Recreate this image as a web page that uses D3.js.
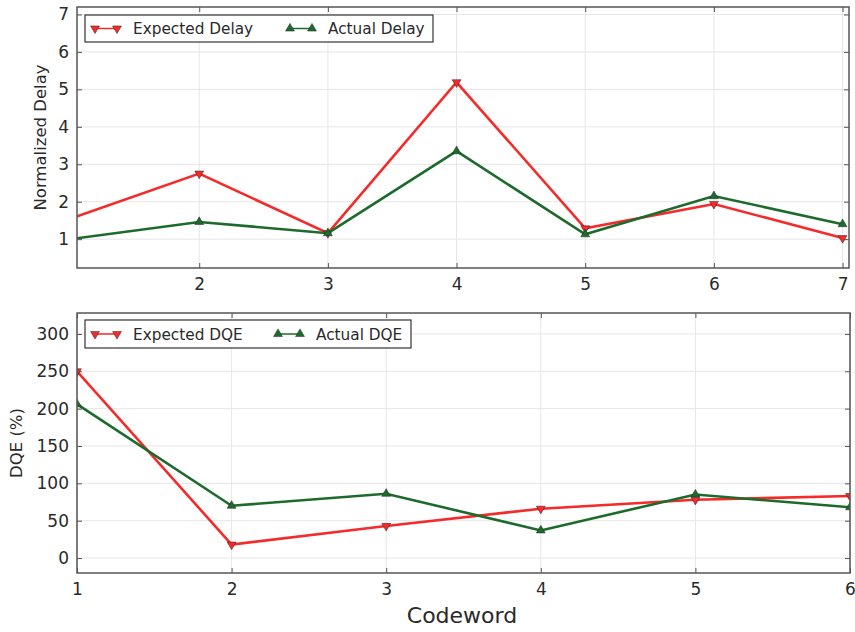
<!DOCTYPE html>
<html>
<head>
<meta charset="utf-8">
<script src="https://cdn.jsdelivr.net/npm/d3@7"></script>
<style>
  body { margin: 0; background: #fff; }
  svg { font-family: "DejaVu Sans", sans-serif; }
  .grid line { stroke: #e6e6e6; stroke-width: 1; }
  .axis path { display: none; }
  .axis line { stroke: #555; }
  .axis text { fill: #2a2a2a; font-size: 17px; font-family: "DejaVu Sans", sans-serif; }
</style>
</head>
<body>
<svg id="chart" width="855" height="632"></svg>
<script>
  // top panel
  const delayX = [1, 2, 3, 4, 5, 6, 7],
        expectedDelay = [1.55, 2.75, 1.16, 5.19, 1.29, 1.94, 1.03],
        actualDelay = [1.0, 1.46, 1.16, 3.35, 1.13, 2.15, 1.4],
        delayXTicks = [2, 3, 4, 5, 6, 7],
        delayYTicks = [1, 2, 3, 4, 5, 6, 7];

  // bottom panel
  const dqeX = [1, 2, 3, 4, 5, 6],
        expectedDQE = [250, 18, 43, 66, 78, 83],
        actualDQE = [206, 70, 86, 37, 85, 68],
        dqeXTicks = [1, 2, 3, 4, 5, 6],
        dqeYTicks = [0, 50, 100, 150, 200, 250, 300];

  const red = "#f52a2a", green = "#1d6b2c";

  let svg = d3.select("#chart");

  function panel (opt) {
    let x = d3.scaleLinear().domain(opt.xDomain).range([opt.left, opt.right]);
    let y = d3.scaleLinear().domain(opt.yDomain).range([opt.bottom, opt.top]);
    let w = opt.right - opt.left, h = opt.bottom - opt.top;

    let g = svg.append("g");

    g.append("clipPath").attr("id", opt.id)
     .append("rect")
     .attr("x", opt.left).attr("y", opt.top)
     .attr("width", w).attr("height", h);

    // grid
    let grid = g.append("g").attr("class", "grid");
    grid.selectAll(".gx").data(opt.xTicks).enter().append("line")
        .attr("x1", d => x(d)).attr("x2", d => x(d))
        .attr("y1", opt.top).attr("y2", opt.bottom);
    grid.selectAll(".gy").data(opt.yTicks).enter().append("line")
        .attr("y1", d => y(d)).attr("y2", d => y(d))
        .attr("x1", opt.left).attr("x2", opt.right);

    // axes, ticks inward like matplotlib classic
    g.append("g").attr("class", "axis")
     .attr("transform", "translate(0," + opt.bottom + ")")
     .call(d3.axisBottom(x).tickValues(opt.xTicks).tickFormat(d3.format("d")).tickSizeInner(-5).tickSizeOuter(0).tickPadding(10));
    g.append("g").attr("class", "axis")
     .attr("transform", "translate(0," + opt.top + ")")
     .call(d3.axisTop(x).tickValues(opt.xTicks).tickSizeInner(-5).tickSizeOuter(0).tickFormat(""));
    g.append("g").attr("class", "axis")
     .attr("transform", "translate(" + opt.left + ",0)")
     .call(d3.axisLeft(y).tickValues(opt.yTicks).tickFormat(d3.format("d")).tickSizeInner(-5).tickSizeOuter(0).tickPadding(8));
    g.append("g").attr("class", "axis")
     .attr("transform", "translate(" + opt.right + ",0)")
     .call(d3.axisRight(y).tickValues(opt.yTicks).tickSizeInner(-5).tickSizeOuter(0).tickFormat(""));

    let plot = g.append("g").attr("clip-path", "url(#" + opt.id + ")");

    opt.series.forEach((s) => {
      let pts = opt.xs.map((d, i) => [d, s.values[i]]);
      plot.append("path")
          .datum(pts)
          .attr("d", d3.line().x(d => x(d[0])).y(d => y(d[1])))
          .style("fill", "none")
          .style("stroke", s.color)
          .style("stroke-width", 2.6);
      plot.selectAll(null).data(pts).enter().append("path")
          .attr("transform", d => "translate(" + x(d[0]) + "," + y(d[1]) + ")" + (s.down ? " rotate(180)" : ""))
          .attr("d", d3.symbol(d3.symbolTriangle, 34))
          .style("fill", s.color)
          .style("stroke", "#222")
          .style("stroke-width", 0.5);
    });

    // border
    g.append("rect")
     .attr("x", opt.left).attr("y", opt.top)
     .attr("width", w).attr("height", h)
     .style("fill", "none")
     .style("stroke", "#555")
     .style("stroke-width", 1.5);

    // legend
    let lg = g.append("g");
    lg.append("rect")
      .attr("x", opt.legend.x).attr("y", opt.legend.y)
      .attr("width", opt.legend.w).attr("height", opt.legend.h)
      .style("fill", "#fff")
      .style("stroke", "#333")
      .style("stroke-width", 1.2);
    opt.series.forEach((s, i) => {
      let lx = opt.legend.x + opt.legend.items[i], ly = opt.legend.y + opt.legend.h / 2;
      lg.append("line")
        .attr("x1", lx).attr("x2", lx + 22)
        .attr("y1", ly).attr("y2", ly)
        .style("stroke", s.color).style("stroke-width", 1.5);
      [lx, lx + 22].forEach((mx) => {
        lg.append("path")
          .attr("transform", "translate(" + mx + "," + ly + ")" + (s.down ? " rotate(180)" : ""))
          .attr("d", d3.symbol(d3.symbolTriangle, 34))
          .style("fill", s.color)
          .style("stroke", "#222")
          .style("stroke-width", 0.5);
      });
      lg.append("text")
        .attr("x", lx + 38).attr("y", ly + 5.5)
        .attr("font-size", 15.3)
        .attr("fill", "#2a2a2a")
        .text(s.name);
    });

    // y label
    g.append("text")
     .attr("transform", "translate(" + opt.yLabelX + "," + (opt.top + opt.bottom) / 2 + ") rotate(-90)")
     .attr("text-anchor", "middle")
     .attr("font-size", 16.5)
     .attr("fill", "#2a2a2a")
     .text(opt.yLabel);
  }

  panel({
    id: "clipTop",
    left: 77, right: 849, top: 7, bottom: 268,
    xDomain: [1.05, 7.05], yDomain: [0.23, 7.2],
    xTicks: delayXTicks, yTicks: delayYTicks,
    xs: delayX,
    series: [
      {name: "Expected Delay", values: expectedDelay, color: red, down: true},
      {name: "Actual Delay", values: actualDelay, color: green, down: false}
    ],
    legend: {x: 85, y: 15, w: 348, h: 27, items: [10, 205]},
    yLabel: "Normalized Delay", yLabelX: 46
  });

  panel({
    id: "clipBottom",
    left: 77, right: 850, top: 313, bottom: 573,
    xDomain: [1, 6], yDomain: [-20, 328],
    xTicks: dqeXTicks, yTicks: dqeYTicks,
    xs: dqeX,
    series: [
      {name: "Expected DQE", values: expectedDQE, color: red, down: true},
      {name: "Actual DQE", values: actualDQE, color: green, down: false}
    ],
    legend: {x: 85, y: 320, w: 326, h: 28, items: [10, 193]},
    yLabel: "DQE (%)", yLabelX: 22
  });

  // x label
  svg.append("text")
     .attr("x", 462).attr("y", 623)
     .attr("text-anchor", "middle")
     .attr("font-size", 22)
     .attr("fill", "#2a2a2a")
     .text("Codeword");
</script>
</body>
</html>
